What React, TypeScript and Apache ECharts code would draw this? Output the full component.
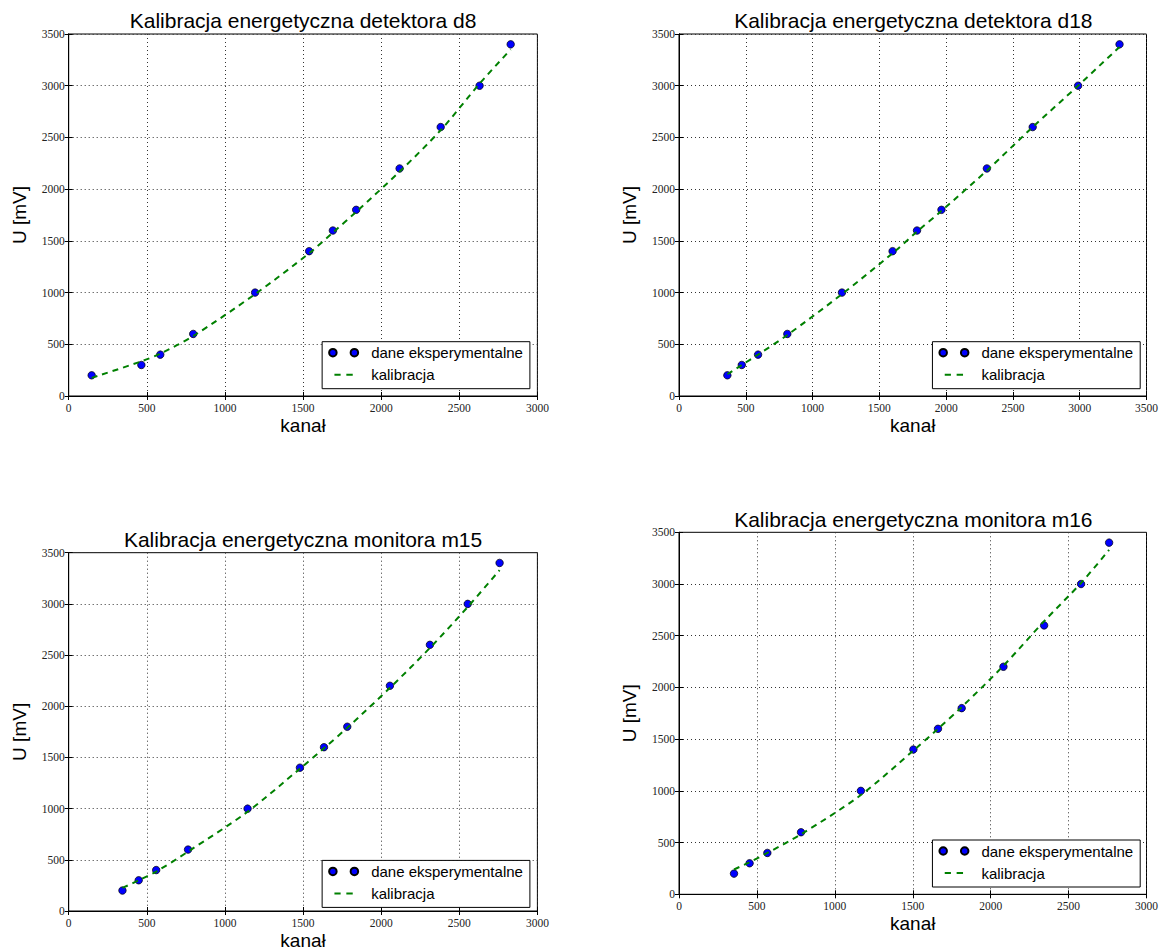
import React, { useEffect, useRef } from "react";
import * as echarts from "echarts";

// ---- data ----
const panelTitles = [
  "Kalibracja energetyczna detektora d8",
  "Kalibracja energetyczna detektora d18",
  "Kalibracja energetyczna monitora m15",
  "Kalibracja energetyczna monitora m16",
];
const xAxisMax = [3000, 3500, 3000, 3000];
const uValues = [200, 300, 400, 600, 1000, 1400, 1600, 1800, 2200, 2600, 3000, 3400];

const d8Channels = [147, 465, 586, 797, 1193, 1539, 1691, 1840, 2118, 2381, 2630, 2829];
const d8FitU = [175, 335, 410, 580, 985, 1380, 1580, 1780, 2170, 2570, 3020, 3350];

const d18Channels = [362, 470, 592, 811, 1220, 1599, 1782, 1965, 2305, 2648, 2988, 3298];
const d18FitU = [210, 300, 400, 590, 985, 1380, 1590, 1790, 2180, 2600, 3000, 3375];

const m15Channels = [344, 448, 560, 764, 1145, 1480, 1634, 1783, 2056, 2312, 2554, 2758];
const m15FitU = [225, 300, 385, 580, 970, 1390, 1590, 1790, 2180, 2570, 2970, 3330];

const m16Channels = [353, 453, 567, 783, 1167, 1504, 1662, 1814, 2082, 2343, 2580, 2760];
const m16FitU = [240, 310, 400, 580, 960, 1390, 1600, 1810, 2210, 2640, 3010, 3330];

const channelSets = [d8Channels, d18Channels, m15Channels, m16Channels];
const fitSets = [d8FitU, d18FitU, m15FitU, m16FitU];

const pointsName = "dane eksperymentalne";
const fitName = "kalibracja";
const xName = "kanał";
const yName = "U [mV]";

// ---- layout ----
const W = 1161;
const H = 951;
const grids = [
  { left: 68.7, top: 34, width: 468.7, height: 362 },
  { left: 679, top: 34, width: 468.7, height: 362 },
  { left: 68.7, top: 552.7, width: 468.7, height: 362 },
  { left: 679, top: 532.3, width: 468.7, height: 362 },
];
const titleCenterY = [21, 21, 540, 520];

const SANS = "'Liberation Sans', Arial, sans-serif";
const SERIF = "'Liberation Serif', 'DejaVu Serif', serif";
// legend handles: two marker dots, and a two-dash line segment (bounding box 29 x 7.5)
const twoDotsIcon =
  "path://M0,3.75a3.75,3.75 0 1,0 7.5,0a3.75,3.75 0 1,0 -7.5,0M21.5,3.75a3.75,3.75 0 1,0 7.5,0a3.75,3.75 0 1,0 -7.5,0";
const dashIcon =
  "path://M0,0M29,7.5M5.3,2.75L11.5,2.75L11.5,4.75L5.3,4.75ZM17.2,2.75L23.6,2.75L23.6,4.75L17.2,4.75Z";

export default function App() {
  const ref = useRef<HTMLDivElement>(null);

  useEffect(() => {
    if (!ref.current) return;
    const chart = echarts.init(ref.current, undefined, { renderer: "svg" });

    const gridOpt = grids.map((g) => ({
      left: g.left,
      top: g.top,
      width: g.width,
      height: g.height,
      show: true,
      borderColor: "#000",
      borderWidth: 1,
      backgroundColor: "#fff",
      containLabel: false,
    }));

    const gridLine = { show: true, lineStyle: { color: "#333", width: 1, type: [1, 3] } };
    const plain = (v: number) => String(v);

    const mainX = grids.map((_, i) => ({
      type: "value",
      gridIndex: i,
      min: 0,
      max: xAxisMax[i],
      interval: 500,
      name: xName,
      nameLocation: "middle",
      nameGap: 20,
      nameTextStyle: { fontFamily: SANS, fontSize: 19, color: "#000", verticalAlign: "top" },
      axisLine: { show: true, lineStyle: { color: "#000", width: 1 } },
      axisTick: { show: true, inside: true, length: 4, lineStyle: { color: "#000" } },
      axisLabel: { fontFamily: SERIF, fontSize: 11.5, color: "#222", margin: 6, formatter: plain },
      splitLine: gridLine,
    }));
    const topX = grids.map((_, i) => ({
      type: "value",
      gridIndex: i,
      position: "top",
      min: 0,
      max: xAxisMax[i],
      interval: 500,
      axisLine: { show: true, lineStyle: { color: "#000", width: 1 } },
      axisTick: { show: true, inside: true, length: 4, lineStyle: { color: "#000" } },
      axisLabel: { show: false },
      splitLine: { show: false },
    }));
    const mainY = grids.map((_, i) => ({
      type: "value",
      gridIndex: i,
      min: 0,
      max: 3500,
      interval: 500,
      name: yName,
      nameLocation: "middle",
      nameGap: 40,
      nameRotate: 90,
      nameTextStyle: { fontFamily: SANS, fontSize: 19, color: "#000" },
      axisLine: { show: true, lineStyle: { color: "#000", width: 1 } },
      axisTick: { show: true, inside: true, length: 4, lineStyle: { color: "#000" } },
      axisLabel: { fontFamily: SERIF, fontSize: 11.5, color: "#222", margin: 4, formatter: plain },
      splitLine: gridLine,
    }));
    const rightY = grids.map((_, i) => ({
      type: "value",
      gridIndex: i,
      position: "right",
      min: 0,
      max: 3500,
      interval: 500,
      axisLine: { show: true, lineStyle: { color: "#000", width: 1 } },
      axisTick: { show: true, inside: true, length: 4, lineStyle: { color: "#000" } },
      axisLabel: { show: false },
      splitLine: { show: false },
    }));

    const series: any[] = [];
    for (let i = 0; i < 4; i++) {
      series.push({
        type: "scatter",
        name: pointsName,
        xAxisIndex: i,
        yAxisIndex: i,
        symbol: "circle",
        symbolSize: 7.5,
        itemStyle: { color: "#0000ff", borderColor: "#000", borderWidth: 0.7, opacity: 1 },
        data: channelSets[i].map((c, k) => [c, uValues[k]]),
        z: 3,
      });
      series.push({
        type: "line",
        name: fitName,
        xAxisIndex: i,
        yAxisIndex: i,
        symbol: "none",
        showSymbol: false,
        smooth: 0.3,
        lineStyle: { color: "#008000", width: 2, type: [6, 5] },
        itemStyle: { color: "#008000" },
        data: channelSets[i].map((c, k) => [c, fitSets[i][k]]),
        z: 4,
      });
    }

    const titles = grids.map((g, i) => ({
      text: panelTitles[i],
      left: g.left + g.width / 2,
      top: titleCenterY[i] - 11.5,
      textAlign: "center",
      padding: 0,
      textStyle: { fontFamily: SANS, fontSize: 21, fontWeight: "normal", color: "#000" },
    }));

    const legends = grids.map((g) => ({
      orient: "vertical",
      right: W - (g.left + g.width) + 7.5,
      bottom: H - (g.top + g.height) + 7.3,
      backgroundColor: "#fff",
      borderColor: "#000",
      borderWidth: 1,
      borderRadius: 0,
      padding: [3, 7, 6, 6],
      itemGap: 6,
      itemWidth: 29,
      itemHeight: 7.5,
      selectedMode: false,
      textStyle: {
        fontFamily: SANS,
        fontSize: 15,
        color: "#000",
        lineHeight: 16,
        padding: [0, 0, 0, 8],
      },
      data: [
        { name: pointsName, icon: twoDotsIcon },
        { name: fitName, icon: dashIcon },
      ],
      z: 10,
    }));

    chart.setOption({
      animation: false,
      backgroundColor: "#fff",
      title: titles,
      legend: legends,
      grid: gridOpt,
      xAxis: [...mainX, ...topX],
      yAxis: [...mainY, ...rightY],
      series,
    });

    return () => chart.dispose();
  }, []);

  return (
    <div
      ref={ref}
      style={{ position: "fixed", left: 0, top: 0, width: W, height: H, background: "#fff" }}
    />
  );
}
